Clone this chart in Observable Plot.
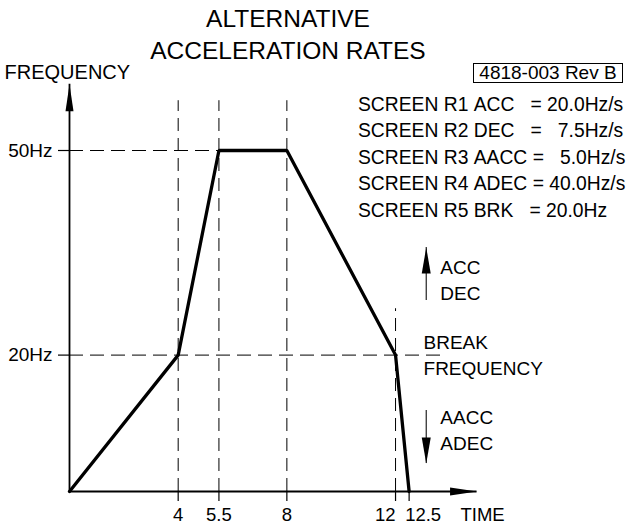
<!DOCTYPE html>
<html>
<head>
<meta charset="utf-8">
<script src="https://cdn.jsdelivr.net/npm/d3@7"></script>
<script src="https://cdn.jsdelivr.net/npm/@observablehq/plot@0.6"></script>
<style>
  body { margin: 0; background: #fff; }
  #wrap { position: relative; width: 631px; height: 525px; font-family: "Liberation Sans", Arial, sans-serif; color: #000; }
  #wrap svg { position: absolute; left: 0; top: 0; }
  .ov { position: absolute; white-space: pre; line-height: 1; }
  .title { left: 0; width: 576px; text-align: center; font-size: 24.5px; }
  #ref { left: 473px; top: 63px; width: 148px; height: 18px; border: 1px solid #000; font-size: 19px; line-height: 18px; text-align: center; }
  #rows { left: 358px; top: 91.5px; font-size: 19.3px; line-height: 26.5px; }
</style>
</head>
<body>
<div id="wrap"></div>
<script>
// ---------- data ----------
const titleLines = ["ALTERNATIVE", "ACCELERATION RATES"];
const docRef = "4818-003 Rev B";
const screenRows = [
  "SCREEN R1 ACC   = 20.0Hz/s",
  "SCREEN R2 DEC   =   7.5Hz/s",
  "SCREEN R3 AACC =   5.0Hz/s",
  "SCREEN R4 ADEC = 40.0Hz/s",
  "SCREEN R5 BRK   = 20.0Hz"
];
const profileTime = [0, 4, 5.5, 8, 12, 12.5];
const profileFreq = [0, 20, 50, 50, 20, 0];
const xTicks = [4, 5.5, 8, 12, 12.5];
const xTickLabels = ["4", "5.5", "8", "12", "12.5"];
const yTicks = [20, 50];
const yTickLabels = ["20Hz", "50Hz"];
const guideTimes = [4, 5.5, 8, 12];
const guideTimeTops = [57.3, 57.3, 57.3, 26.8];
const guideFreqs = [20, 50];
const guideFreqEnds = [13.77, 8];
const xAxisLabel = "TIME";
const yAxisLabel = "FREQUENCY";
const breakLabel = ["BREAK", "FREQUENCY"];
const upLabels = ["ACC", "DEC"];
const downLabels = ["AACC", "ADEC"];

// ---------- layout (not data) ----------
const FONT = '"Liberation Sans", Arial, sans-serif';
const X_END = 15, Y_END = 59.7;
const annotArrowX = 13.13, annotTextX = 13.65, breakTextX = 13.03;
const upArrow = [28.0, 35.78], downArrow = [11.88, 4.1];
const upTextY = [32.84, 29.03], downTextY = [10.85, 7.04], breakTextY = [21.85, 18.04];
const timeLabelX = 14.39, freqLabelX = -2.39, freqLabelY = 61.44;

function arrowHead(len, half) {
  return {draw(ctx) { ctx.moveTo(0, 0); ctx.lineTo(half, len); ctx.lineTo(-half, len); ctx.closePath(); }};
}

const profile = profileTime.map((t, i) => ({t, f: profileFreq[i]}));
const nbsp = s => s.replace(/ /g, "\u00a0");
const align = d => d === 12 ? "end" : d === 12.5 ? "start" : "middle";

const xLabelMarks = ["start", "middle", "end"].map(a => Plot.axisX(xTicks.filter(d => align(d) === a), {
  anchor: "bottom", tickSize: 0, tickPadding: 16, textAnchor: a,
  dx: a === "start" ? -4 : 0, fontSize: 18.5,
  tickFormat: d => xTickLabels[xTicks.indexOf(d)]
}));

const chart = Plot.plot({
  width: 631, height: 525,
  marginLeft: 69, marginRight: 154.45, marginTop: 81.8, marginBottom: 34,
  x: {domain: [0, X_END], label: null},
  y: {domain: [0, 60], label: null},
  style: {fontFamily: FONT, fontSize: "19px", color: "#000", background: "transparent", overflow: "visible"},
  marks: [
    // dashed guides
    Plot.ruleY(guideFreqs, {y: d => d, x1: 0, x2: (d, i) => guideFreqEnds[i], strokeDasharray: "14,7", strokeWidth: 1}),
    Plot.ruleX(guideTimes, {x: d => d, y1: 0, y2: (d, i) => guideTimeTops[i], strokeDasharray: "13,7", strokeWidth: 1}),
    // axes lines
    Plot.ruleY([0], {x1: 0, x2: X_END, strokeWidth: 1.8}),
    Plot.ruleX([0], {y1: 0, y2: Y_END, strokeWidth: 1.8}),
    Plot.dot([0], {x: X_END, y: 0, symbol: arrowHead(27, 4), rotate: 90, fill: "#000", stroke: "none"}),
    Plot.dot([0], {x: 0, y: Y_END, symbol: arrowHead(27, 4), fill: "#000", stroke: "none"}),
    // ticks
    Plot.ruleX(xTicks, {x: d => d, y1: 0, y2: 0, insetBottom: -10, strokeWidth: 1.2}),
    ...xLabelMarks,
    Plot.axisY(yTicks, {anchor: "left", tickSize: 11, tickPadding: 6, strokeWidth: 1.2, fontSize: 19, label: null,
      tickFormat: d => yTickLabels[yTicks.indexOf(d)]}),
    Plot.text([xAxisLabel], {x: timeLabelX, y: 0, dy: 16, lineAnchor: "top", textAnchor: "start", fontSize: 18.5}),
    Plot.text([yAxisLabel], {x: freqLabelX, y: freqLabelY, textAnchor: "start", fontSize: 20}),
    // annotation arrows
    Plot.ruleX([annotArrowX], {y1: upArrow[0], y2: upArrow[1], strokeWidth: 1.2, stroke: "#222"}),
    Plot.dot([0], {x: annotArrowX, y: upArrow[1], symbol: arrowHead(26, 4.5), fill: "#000", stroke: "none"}),
    Plot.ruleX([annotArrowX], {y1: downArrow[0], y2: downArrow[1], strokeWidth: 1.2, stroke: "#222"}),
    Plot.dot([0], {x: annotArrowX, y: downArrow[1], symbol: arrowHead(26, 4.5), rotate: 180, fill: "#000", stroke: "none"}),
    Plot.text(upLabels, {x: annotTextX, y: (d, i) => upTextY[i], text: d => d, textAnchor: "start"}),
    Plot.text(downLabels, {x: annotTextX, y: (d, i) => downTextY[i], text: d => d, textAnchor: "start"}),
    Plot.text(breakLabel, {x: breakTextX, y: (d, i) => breakTextY[i], text: d => d, textAnchor: "start"}),
    // profile
    Plot.line(profile, {x: "t", y: "f", strokeWidth: 3.3, strokeLinejoin: "miter", stroke: "#000"})
  ]
});

const wrap = document.getElementById("wrap");
wrap.appendChild(chart);
const titleTops = [6.5, 39];
titleLines.forEach((t, i) => {
  const d = document.createElement("div");
  d.className = "ov title"; d.style.top = titleTops[i] + "px"; d.textContent = t;
  wrap.appendChild(d);
});
const ref = document.createElement("div");
ref.className = "ov"; ref.id = "ref"; ref.textContent = docRef;
wrap.appendChild(ref);
const rows = document.createElement("div");
rows.className = "ov"; rows.id = "rows"; rows.textContent = screenRows.map(nbsp).join("\n");
wrap.appendChild(rows);
</script>
</body>
</html>
